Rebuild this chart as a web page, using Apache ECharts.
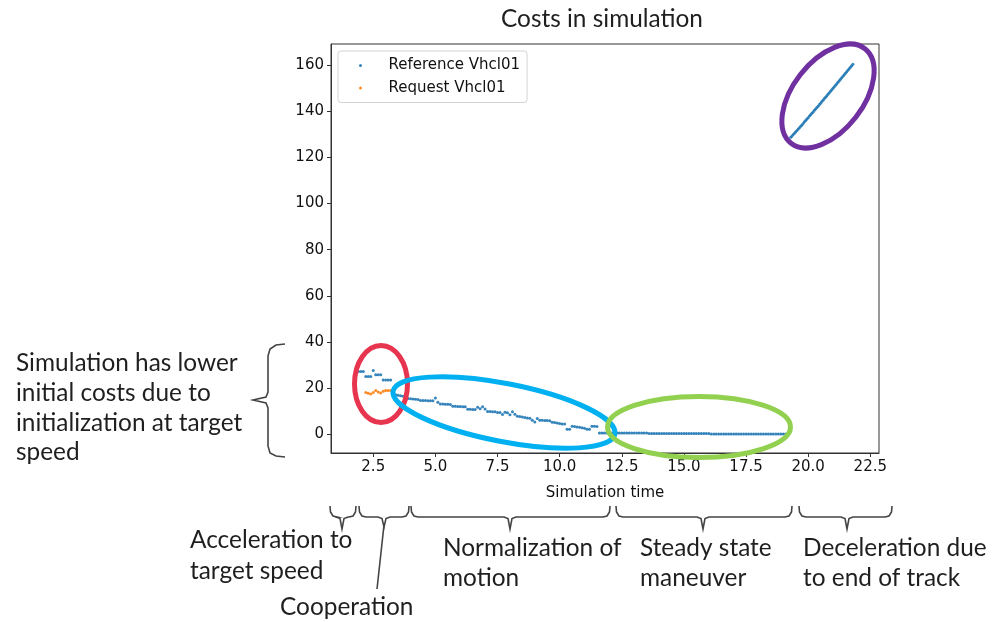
<!DOCTYPE html>
<html>
<head>
<meta charset="utf-8">
<script src="https://cdn.jsdelivr.net/npm/echarts@6/dist/echarts.min.js"></script>
<style>
html,body{margin:0;padding:0;background:#fff;}
#chart{width:1000px;height:622px;}
</style>
</head>
<body>
<div id="chart"></div>
<script>
// ---- Data ----
const refTime = [1.9,2.0,2.1,2.2,2.3,2.4,2.5,2.6,2.7,2.8,2.9,3.0,3.1,3.2,3.3,3.4,3.5,3.6,3.7,3.8,3.9,4.0,4.1,4.2,4.3,4.4,4.5,4.6,4.7,4.8,4.9,5.0,5.1,5.2,5.3,5.4,5.5,5.6,5.7,5.8,5.9,6.0,6.1,6.2,6.3,6.4,6.5,6.6,6.7,6.8,6.9,7.0,7.1,7.2,7.3,7.4,7.5,7.6,7.7,7.8,7.9,8.0,8.1,8.2,8.3,8.4,8.5,8.6,8.7,8.8,8.9,9.0,9.1,9.2,9.3,9.4,9.5,9.6,9.7,9.8,9.9,10.0,10.1,10.2,10.3,10.4,10.5,10.6,10.7,10.8,10.9,11.0,11.1,11.2,11.3,11.4,11.5,11.6,
11.7,11.8,11.9,12.0,12.1,12.2,12.3,12.4,12.5,12.6,12.7,12.8,12.9,13.0,13.1,13.2,13.3,13.4,13.5,
13.6,13.7,13.8,13.9,14.0,14.1,14.2,14.3,14.4,14.5,14.6,14.7,14.8,14.9,15.0,15.1,15.2,15.3,15.4,15.5,15.6,15.7,15.8,15.9,16.0,
16.1,16.2,16.3,16.4,16.5,16.6,16.7,16.8,16.9,17.0,17.1,17.2,17.3,17.4,17.5,17.6,17.7,17.8,17.9,18.0,18.1,18.2,18.3,18.4,18.5,18.6,18.7,18.8,18.9,19.0,19.1,19.2,
19.30,19.35,19.40,19.45,19.50,19.55,19.60,19.65,19.70,19.75,19.80,19.85,19.90,19.95,20.00,20.05,20.10,20.15,20.20,20.25,20.30,20.35,20.40,20.45,20.50,20.55,20.60,20.65,20.70,20.75,20.80,20.85,20.90,20.95,21.00,21.05,21.10,21.15,21.20,21.25,21.30,21.35,21.40,21.45,21.50,21.55,21.60,21.65,21.70,21.75,21.80];
const refCost = [27.3,27.3,27.3,25.1,25.1,25.1,27.7,25.9,25.9,25.9,23.6,23.6,23.6,23.6,17.3,17.2,17.0,16.8,16.6,15.6,15.6,15.5,15.4,15.3,15.2,14.7,14.7,14.7,14.6,14.6,14.6,15.8,14.0,13.2,13.2,13.1,13.1,13.0,12.2,12.2,12.1,12.1,12.0,12.0,10.9,10.9,10.8,10.8,11.8,11.2,12.0,11.0,10.0,10.0,9.9,9.9,9.5,9.5,8.7,9.6,9.4,8.6,9.9,8.8,7.9,7.8,7.6,7.4,7.1,7.0,6.2,5.4,6.9,6.2,6.2,6.1,6.1,6.0,5.3,5.2,5.0,4.8,4.6,4.5,2.3,2.3,3.6,3.5,3.3,3.1,2.9,2.7,2.3,2.3,3.6,3.6,3.5,0.7,
0.7,0.7,0.7,0.7,0.7,0.7,0.7,0.7,0.7,0.7,0.7,0.7,0.7,0.7,0.7,0.7,0.7,0.7,0.7,
0.4,0.4,0.4,0.4,0.4,0.4,0.4,0.4,0.4,0.4,0.4,0.4,0.4,0.4,0.4,0.4,0.4,0.4,0.4,0.4,0.4,0.4,0.4,0.4,0.4,
0.2,0.2,0.2,0.2,0.2,0.2,0.2,0.2,0.2,0.2,0.2,0.2,0.2,0.2,0.2,0.2,0.2,0.2,0.2,0.2,0.2,0.2,0.2,0.2,0.2,0.2,0.2,0.2,0.2,0.2,0.2,0.2,
128.6,129.2,129.8,130.4,131.0,131.6,132.2,132.8,133.4,134.0,134.6,135.3,135.9,136.5,137.1,137.8,138.4,139.0,139.6,140.3,140.9,141.5,142.1,142.8,143.4,144.1,144.7,145.4,146.0,146.6,147.2,147.9,148.5,149.2,149.8,150.5,151.1,151.8,152.4,153.1,153.7,154.4,155.0,155.7,156.3,157.0,157.6,158.3,158.9,159.6,160.2];

const reqTime = [2.2,2.3,2.4,2.5,2.6,2.7,2.8,2.9,3.0,3.1,3.2];
const reqCost = [18.2,17.9,17.5,18.2,19.0,18.4,18.0,18.7,19.0,19.0,19.0];

const xTicks = [2.5,5.0,7.5,10.0,12.5,15.0,17.5,20.0,22.5];
const yTicks = [0,20,40,60,80,100,120,140,160];

const seriesNames = ['Reference Vhcl01','Request Vhcl01'];
const titleText = 'Costs in simulation';
const xAxisName = 'Simulation time';

const leftNote = ['Simulation has lower','initial costs due to','initialization at target','speed'];
const phaseNotes = [
  ['Acceleration to','target speed'],
  ['Cooperation'],
  ['Normalization of','motion'],
  ['Steady state','maneuver'],
  ['Deceleration due','to end of track']
];

// ---- Build chart ----
const zip = (a,b) => a.map((v,i) => [v,b[i]]);
const chart = echarts.init(document.getElementById('chart'), null, {renderer:'canvas'});

const annFont = 'Lato, "Open Sans", sans-serif';
const annSize = 24.4;
const annColor = '#1f1f1f';
const brCol = '#444';
const mplFont = '"DejaVu Sans", sans-serif';
const mplSize = 15;

function hBracket(x1, x2, tip, yTop, yLine, yTip){
  return {
    type:'polyline', silent:true, z:50,
    shape:{points:[[x1,yTop],[x1+0.5,yLine-5],[x1+3,yLine-1],[x1+7,yLine],[tip-6,yLine],[tip-2,yLine+1.5],[tip,yTip],[tip+2,yLine+1.5],[tip+6,yLine],[x2-7,yLine],[x2-3,yLine-1],[x2-0.5,yLine-5],[x2,yTop]]},
    style:{stroke:brCol, lineWidth:1.6, fill:null}
  };
}
function txt(s, x, y){
  return {type:'text', silent:true, z:50, x:x, y:y,
    style:{text:s, font:'normal ' + annSize + 'px ' + annFont, fill:annColor, textVerticalAlign:'middle', textAlign:'left', verticalAlign:'middle', align:'left'}};
}
function ell(cx, cy, rx, ry, rotDeg, color){
  return {type:'ellipse', silent:true, z:60, x:cx, y:cy, rotation: rotDeg*Math.PI/180,
    shape:{cx:0, cy:0, rx:rx, ry:ry},
    style:{stroke:color, lineWidth:5, fill:null}};
}

const graphics = [
  ell(381, 384, 26.5, 38.5, 0, '#E8354F'),
  ell(504, 412.5, 113, 29, -11, '#00B0F0'),
  ell(699, 427, 91.5, 30.5, 0, '#92D050'),
  ell(828, 96, 60, 35, 52, '#7030A0'),
  // left bracket
  {type:'polyline', silent:true, z:50,
   shape:{points:[[285,344],[276,345],[270,349],[268,356],[268,392],[266,397],[253,400],[266,403],[268,408],[268,446],[270,453],[276,456],[285,457]]},
   style:{stroke:brCol, lineWidth:1.6, fill:null}},
  hBracket(330, 356, 342, 506, 517, 529),
  hBracket(359, 409, 384, 506, 517, 527),
  {type:'line', silent:true, z:50, shape:{x1:384, y1:525, x2:377, y2:589}, style:{stroke:brCol, lineWidth:1.6}},
  hBracket(411, 610, 510, 506, 517, 529),
  hBracket(616, 792, 703, 506, 517, 529),
  hBracket(799, 892, 847, 506, 517, 529)
];
const leftYs = [363, 393, 423, 452];
leftNote.forEach((s,i) => graphics.push(txt(s, 16, leftYs[i])));
const notePos = [[190,[540,571]],[280,[607]],[443,[548,578]],[640,[548,578]],[803,[548,578]]];
phaseNotes.forEach((lines,k) => lines.forEach((s,i) => graphics.push(txt(s, notePos[k][0], notePos[k][1][i]))));

const tickFont = {fontFamily:mplFont, fontSize:mplSize, color:'#111'};

chart.setOption({
  animation:false,
  backgroundColor:'#fff',
  title:{text:titleText, left:597, top:2, textAlign:'center',
    textStyle:{fontFamily:annFont, fontSize:annSize, fontWeight:'normal', color:annColor}},
  grid:{left:331, right:121, top:44, bottom:169, show:true, borderColor:'#333', borderWidth:1, backgroundColor:'transparent'},
  legend:{
    left:338, top:51, orient:'vertical',
    data:seriesNames,
    itemWidth:46, itemHeight:3, itemGap:7.5,
    padding:[7,7,7,21],
    borderColor:'#d3d3d3', borderWidth:1, borderRadius:3,
    backgroundColor:'rgba(255,255,255,0.8)',
    textStyle:{fontFamily:mplFont, fontSize:mplSize, color:'#111'}
  },
  xAxis:{
    type:'value', min:0.8, max:22.85,
    name:xAxisName, nameLocation:'middle', nameGap:33,
    nameTextStyle:{fontFamily:mplFont, fontSize:mplSize, color:'#111'},
    axisLine:{show:true, onZero:false, lineStyle:{color:'#333', width:1}},
    axisTick:{show:true, length:4, customValues:xTicks, lineStyle:{color:'#333'}},
    axisLabel:Object.assign({margin:7, customValues:xTicks, formatter:v => Number(v).toFixed(1)}, tickFont),
    splitLine:{show:false}
  },
  yAxis:{
    type:'value', min:-8, max:169,
    axisLine:{show:true, onZero:false, lineStyle:{color:'#333', width:1}},
    axisTick:{show:true, length:4, customValues:yTicks, lineStyle:{color:'#333'}},
    axisLabel:Object.assign({margin:7, customValues:yTicks, formatter:v => String(Math.round(v))}, tickFont),
    splitLine:{show:false}
  },
  series:[
    {name:seriesNames[0], type:'scatter', symbol:'circle', symbolSize:3,
     itemStyle:{color:'#1f77b4', opacity:0.9}, data:zip(refTime, refCost), silent:true},
    {name:seriesNames[1], type:'scatter', symbol:'circle', symbolSize:3,
     itemStyle:{color:'#ff7f0e', opacity:0.9}, data:zip(reqTime, reqCost), silent:true}
  ],
  graphic:{elements:graphics}
});
</script>
</body>
</html>
